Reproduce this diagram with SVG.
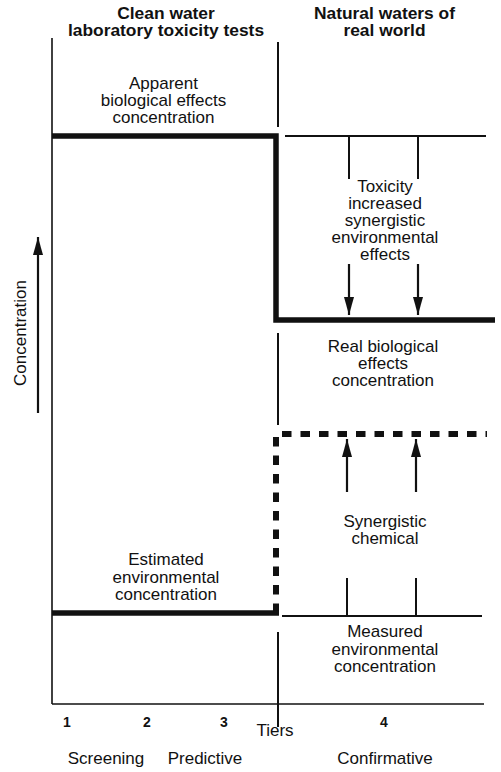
<svg xmlns="http://www.w3.org/2000/svg" width="501" height="772" viewBox="0 0 501 772">
<style>
text{font-family:"Liberation Sans",Arial,sans-serif;fill:#111;text-anchor:middle}
.t{font-size:17px}
.h{font-size:17.4px;font-weight:bold}
.n{font-size:14px;font-weight:bold}
.thin{stroke:#111;stroke-width:1.6;fill:none}
.mid{stroke:#111;stroke-width:2;fill:none}
.thick{stroke:#111;stroke-width:5.5;fill:none}
.dash{stroke:#111;stroke-width:6;fill:none;stroke-dasharray:9.5 9}
.arr{stroke:#111;stroke-width:2.2;fill:none;marker-end:url(#ah)}
</style>
<defs>
<marker id="ah" markerUnits="userSpaceOnUse" markerWidth="20" markerHeight="12" viewBox="0 0 20 12" refX="18" refY="6" orient="auto">
<path d="M0,1 L18,6 L0,11 Z" fill="#111"/>
</marker>
</defs>
<rect width="501" height="772" fill="#fff"/>

<g id="headers">
<text class="h"><tspan x="166" y="19">Clean water</tspan><tspan x="166" y="36">laboratory toxicity tests</tspan></text>
<text class="h"><tspan x="384.5" y="19">Natural waters of</tspan><tspan x="384.5" y="36">real world</tspan></text>
</g>

<g id="axes">
<line class="thin" x1="52" y1="38" x2="52" y2="704"/>
<line class="thin" x1="52" y1="704" x2="484" y2="704"/>
<line class="mid" x1="278" y1="42" x2="278" y2="127"/>
<line class="mid" x1="278" y1="333" x2="278" y2="425"/>
<line class="mid" x1="278" y1="632" x2="278" y2="727"/>
</g>

<g id="concentration-axis">
<line class="arr" x1="38" y1="413" x2="38" y2="237"/>
<text class="t" transform="translate(26,333) rotate(-90)" x="0" y="0">Concentration</text>
</g>

<g id="apparent">
<path class="thick" d="M52,136 H276 V320 H495"/>
<text class="t"><tspan x="163.5" y="89">Apparent</tspan><tspan x="163.5" y="106">biological effects</tspan><tspan x="163.5" y="123">concentration</tspan></text>
</g>

<g id="real-world-top">
<line class="mid" x1="285" y1="136" x2="486" y2="136"/>
<line class="mid" x1="349" y1="136" x2="349" y2="179"/>
<line class="mid" x1="418" y1="136" x2="418" y2="179"/>
</g>

<g id="toxicity">
<text class="t"><tspan x="385" y="192">Toxicity</tspan><tspan x="385" y="209">increased</tspan><tspan x="385" y="226">synergistic</tspan><tspan x="385" y="243">environmental</tspan><tspan x="385" y="260">effects</tspan></text>
</g>

<g id="real-biological">
<text class="t"><tspan x="383" y="352">Real biological</tspan><tspan x="383" y="369">effects</tspan><tspan x="383" y="386">concentration</tspan></text>
</g>

<g id="synergistic-level">
<path class="dash" d="M276,613 V434 H487"/>
</g>

<g id="synergistic">
<text class="t"><tspan x="385" y="527">Synergistic</tspan><tspan x="385" y="544">chemical</tspan></text>
</g>

<g id="estimated">
<line class="thick" x1="52" y1="613" x2="279" y2="613"/>
<text class="t"><tspan x="166" y="565">Estimated</tspan><tspan x="166" y="583">environmental</tspan><tspan x="166" y="600">concentration</tspan></text>
</g>

<g id="measured">
<line class="mid" x1="282" y1="616" x2="482" y2="616"/>
<line class="mid" x1="347" y1="578" x2="347" y2="616"/>
<line class="mid" x1="416" y1="578" x2="416" y2="616"/>
<text class="t"><tspan x="385" y="637">Measured</tspan><tspan x="385" y="655">environmental</tspan><tspan x="385" y="672">concentration</tspan></text>
</g>

<g id="connectors">
<line class="arr" x1="349" y1="264" x2="349" y2="315"/>
<line class="arr" x1="418" y1="264" x2="418" y2="315"/>
<line class="arr" x1="347" y1="492" x2="347" y2="439"/>
<line class="arr" x1="416" y1="492" x2="416" y2="439"/>
</g>

<g id="tiers">
<text class="n" x="67" y="727">1</text>
<text class="n" x="147" y="727">2</text>
<text class="n" x="224" y="727">3</text>
<text class="n" x="384" y="727">4</text>
<text class="t" x="275" y="736">Tiers</text>
<text class="t" x="106" y="764">Screening</text>
<text class="t" x="205" y="764">Predictive</text>
<text class="t" x="385" y="764">Confirmative</text>
</g>
</svg>
